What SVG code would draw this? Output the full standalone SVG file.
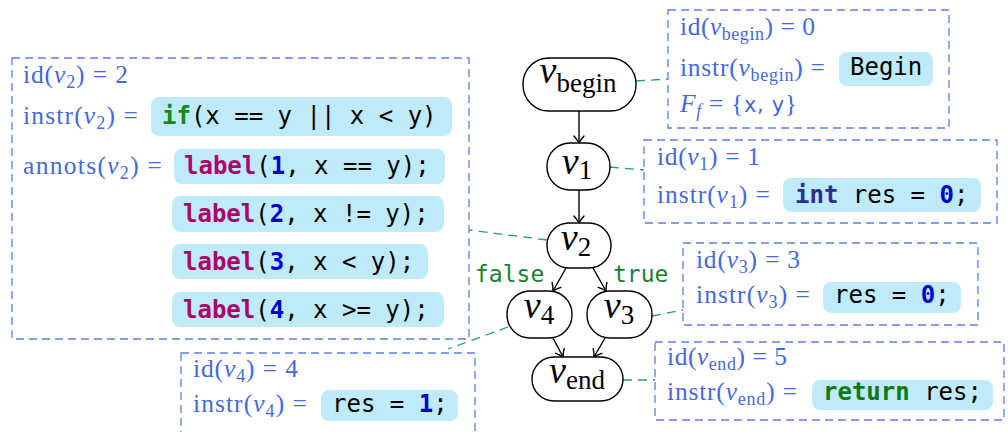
<svg xmlns="http://www.w3.org/2000/svg" width="1008" height="432" viewBox="0 0 1008 432">
<defs>
<style>
.box{fill:none;stroke:#5b7fe6;stroke-width:1.3;stroke-dasharray:8 5}
.con{fill:none;stroke:#1f9a84;stroke-width:1.3;stroke-dasharray:9 6}
.node{fill:#fff;stroke:#000;stroke-width:1.4}
.edge{fill:none;stroke:#000;stroke-width:1.4;marker-end:url(#arr)}
.m{font-family:"Liberation Serif",serif;font-size:25.5px;fill:#4668de}
.i{font-style:italic}
.s{font-size:18px}
.sf{font-family:"DejaVu Sans",sans-serif;font-size:21px}
.nl{font-family:"Liberation Serif",serif;font-size:38px;fill:#000;text-anchor:middle}
.ns{font-size:27px;font-style:normal}
.code{font-family:"DejaVu Sans Mono",monospace;font-size:24px;fill:#000;white-space:pre}
.cb{fill:#bfeafa}
.kl{font-weight:bold;fill:#b0006a}
.kn{font-weight:bold;fill:#0000d0}
.kg{font-weight:bold;fill:#138a13}
.kr{font-weight:bold;fill:#0f7a0f}
.ki{font-weight:bold;fill:#2e2e8e}
.el{font-family:"DejaVu Sans Mono",monospace;font-size:23px;fill:#1a8033}
</style>
<marker id="arr" markerUnits="userSpaceOnUse" markerWidth="12" markerHeight="12" viewBox="-9 -6 10 12" refX="0" refY="0" orient="auto">
<path d="M-7,-5 Q-3,-1.5 0,0 Q-3,1.5 -7,5" fill="none" stroke="#000" stroke-width="1.4" stroke-linecap="round"/>
</marker>
</defs>

<g id="connectors">
<line class="edge" x1="579" y1="111" x2="579" y2="143"/>
<line class="edge" x1="579" y1="190" x2="579" y2="223"/>
<line class="edge" x1="566" y1="268" x2="553" y2="291"/>
<line class="edge" x1="593" y1="268" x2="606" y2="291"/>
<line class="edge" x1="553" y1="338" x2="563" y2="357"/>
<line class="edge" x1="605" y1="338" x2="594" y2="357"/>
<text class="el" x="475" y="282">false</text>
<text class="el" x="613" y="282">true</text>
<line class="con" x1="636" y1="81" x2="668" y2="79"/>
<line class="con" x1="610" y1="167" x2="644" y2="170"/>
<line class="con" x1="547" y1="240" x2="469" y2="230"/>
<line class="con" x1="652" y1="316" x2="683" y2="310"/>
<line class="con" x1="508" y1="327" x2="448" y2="349"/>
<line class="con" x1="623" y1="380" x2="655" y2="380"/>
</g>

<g id="n_begin">
<rect class="node" x="523" y="58" width="113" height="53" rx="26" ry="26"/>
<text class="nl" x="578" y="83"><tspan class="i">v</tspan><tspan class="ns" dy="9">begin</tspan></text>
</g>
<g id="n_v1">
<rect class="node" x="547" y="143" width="63" height="47" rx="23" ry="23"/>
<text class="nl" x="577" y="174"><tspan class="i">v</tspan><tspan class="ns" dy="5">1</tspan></text>
</g>
<g id="n_v2">
<rect class="node" x="547" y="223" width="64" height="45" rx="22" ry="22"/>
<text class="nl" x="576" y="250"><tspan class="i">v</tspan><tspan class="ns" dy="6">2</tspan></text>
</g>
<g id="n_v4">
<rect class="node" x="507" y="291" width="65" height="47" rx="23" ry="23"/>
<text class="nl" x="539" y="318"><tspan class="i">v</tspan><tspan class="ns" dy="6">4</tspan></text>
</g>
<g id="n_v3">
<rect class="node" x="587" y="291" width="65" height="47" rx="23" ry="23"/>
<text class="nl" x="619" y="318"><tspan class="i">v</tspan><tspan class="ns" dy="6">3</tspan></text>
</g>
<g id="n_end">
<rect class="node" x="532" y="357" width="91" height="44" rx="22" ry="22"/>
<text class="nl" x="577" y="383"><tspan class="i">v</tspan><tspan class="ns" dy="6">end</tspan></text>
</g>

<g id="info_v2">
<rect class="box" x="12" y="58" width="457" height="281"/>
<text class="m" x="23" y="83" textLength="105" lengthAdjust="spacing">id(<tspan class="i">v</tspan><tspan class="s" dy="5">2</tspan><tspan dy="-5">) = 2</tspan></text>
<text class="m" x="23" y="124" textLength="115" lengthAdjust="spacing">instr(<tspan class="i">v</tspan><tspan class="s" dy="5">2</tspan><tspan dy="-5">) =</tspan></text>
<text class="m" x="23" y="174" textLength="139" lengthAdjust="spacing">annots(<tspan class="i">v</tspan><tspan class="s" dy="5">2</tspan><tspan dy="-5">) =</tspan></text>
<rect class="cb" x="151" y="97" width="301" height="39" rx="8"/>
<text class="code" x="162" y="124"><tspan class="kg">if</tspan>(x == y || x &lt; y)</text>
<rect class="cb" x="174" y="149" width="271" height="35" rx="8"/>
<text class="code" x="184" y="174"><tspan class="kl">label</tspan>(<tspan class="kn">1</tspan>, x == y);</text>
<rect class="cb" x="172" y="196" width="272" height="36" rx="8"/>
<text class="code" x="183" y="222"><tspan class="kl">label</tspan>(<tspan class="kn">2</tspan>, x != y);</text>
<rect class="cb" x="172" y="244" width="256" height="35" rx="8"/>
<text class="code" x="183" y="270"><tspan class="kl">label</tspan>(<tspan class="kn">3</tspan>, x &lt; y);</text>
<rect class="cb" x="172" y="292" width="272" height="35" rx="8"/>
<text class="code" x="183" y="318"><tspan class="kl">label</tspan>(<tspan class="kn">4</tspan>, x &gt;= y);</text>
</g>

<g id="info_begin">
<rect class="box" x="668" y="10" width="281" height="118"/>
<text class="m" x="680" y="35" textLength="135" lengthAdjust="spacing">id(<tspan class="i">v</tspan><tspan class="s" dy="5">begin</tspan><tspan dy="-5">) = 0</tspan></text>
<text class="m" x="680" y="76" textLength="145" lengthAdjust="spacing">instr(<tspan class="i">v</tspan><tspan class="s" dy="5">begin</tspan><tspan dy="-5">) =</tspan></text>
<text class="m" x="680" y="112" textLength="117" lengthAdjust="spacing"><tspan class="i">F</tspan><tspan class="s i" dy="5">f</tspan><tspan dy="-5"> = {</tspan><tspan class="sf">x, y</tspan>}</text>
<rect class="cb" x="839" y="52" width="94" height="34" rx="8"/>
<text class="code" x="850" y="75">Begin</text>
</g>

<g id="info_v1">
<rect class="box" x="644" y="140" width="353" height="83"/>
<text class="m" x="657" y="165" textLength="103" lengthAdjust="spacing">id(<tspan class="i">v</tspan><tspan class="s" dy="5">1</tspan><tspan dy="-5">) = 1</tspan></text>
<text class="m" x="657" y="203" textLength="113" lengthAdjust="spacing">instr(<tspan class="i">v</tspan><tspan class="s" dy="5">1</tspan><tspan dy="-5">) =</tspan></text>
<rect class="cb" x="783" y="178" width="198" height="34" rx="8"/>
<text class="code" x="795" y="203"><tspan class="ki">int</tspan> res = <tspan class="kn">0</tspan>;</text>
</g>

<g id="info_v3">
<rect class="box" x="683" y="243" width="295" height="82"/>
<text class="m" x="696" y="268" textLength="104" lengthAdjust="spacing">id(<tspan class="i">v</tspan><tspan class="s" dy="5">3</tspan><tspan dy="-5">) = 3</tspan></text>
<text class="m" x="696" y="303" textLength="114" lengthAdjust="spacing">instr(<tspan class="i">v</tspan><tspan class="s" dy="5">3</tspan><tspan dy="-5">) =</tspan></text>
<rect class="cb" x="823" y="282" width="138" height="31" rx="8"/>
<text class="code" x="834" y="303">res = <tspan class="kn">0</tspan>;</text>
</g>

<g id="info_end">
<rect class="box" x="655" y="342" width="349" height="78"/>
<text class="m" x="667" y="365" textLength="120" lengthAdjust="spacing">id(<tspan class="i">v</tspan><tspan class="s" dy="5">end</tspan><tspan dy="-5">) = 5</tspan></text>
<text class="m" x="667" y="400" textLength="130" lengthAdjust="spacing">instr(<tspan class="i">v</tspan><tspan class="s" dy="5">end</tspan><tspan dy="-5">) =</tspan></text>
<rect class="cb" x="812" y="380" width="181" height="30" rx="8"/>
<text class="code" x="823" y="400"><tspan class="kr">return</tspan> res;</text>
</g>

<g id="info_v4">
<rect class="box" x="181" y="353" width="294" height="100"/>
<text class="m" x="193" y="377" textLength="105" lengthAdjust="spacing">id(<tspan class="i">v</tspan><tspan class="s" dy="5">4</tspan><tspan dy="-5">) = 4</tspan></text>
<text class="m" x="193" y="412" textLength="114" lengthAdjust="spacing">instr(<tspan class="i">v</tspan><tspan class="s" dy="5">4</tspan><tspan dy="-5">) =</tspan></text>
<rect class="cb" x="321" y="390" width="137" height="31" rx="8"/>
<text class="code" x="332" y="412">res = <tspan class="kn">1</tspan>;</text>
</g>
</svg>
